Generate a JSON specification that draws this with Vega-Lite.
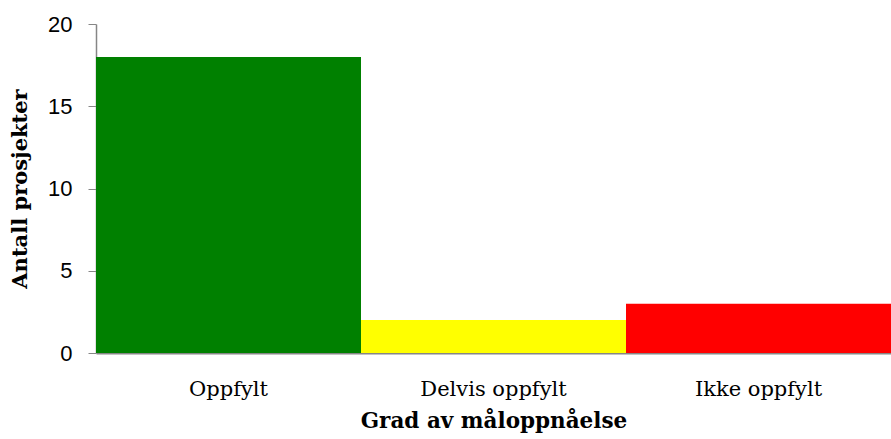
{
  "$schema": "https://vega.github.io/schema/vega-lite/v6.json",
  "width": 795,
  "height": 329,
  "autosize": {"type": "none"},
  "padding": {"left": 96, "top": 24, "right": 0, "bottom": 86},
  "background": "white",
  "config": {"view": {"stroke": null}},
  "data": {
    "values": [
      {"kategori": "Oppfylt", "antall": 18, "farge": "#008000"},
      {"kategori": "Delvis oppfylt", "antall": 2, "farge": "#FFFF00"},
      {"kategori": "Ikke oppfylt", "antall": 3, "farge": "#FF0000"}
    ]
  },
  "mark": {"type": "bar"},
  "encoding": {
    "x": {
      "field": "kategori",
      "type": "nominal",
      "sort": null,
      "scale": {"paddingInner": 0, "paddingOuter": 0},
      "axis": {
        "title": "Grad av måloppnåelse",
        "labelAngle": 0,
        "ticks": false,
        "domainColor": "#868686",
        "domainWidth": 2,
        "labelFont": "DejaVu Serif",
        "labelFontSize": 21,
        "labelColor": "#000000",
        "labelPadding": 25,
        "titleFont": "DejaVu Serif",
        "titleFontSize": 21.5,
        "titleFontWeight": "bold",
        "titleColor": "#000000",
        "titlePadding": 11
      }
    },
    "y": {
      "field": "antall",
      "type": "quantitative",
      "scale": {"domain": [0, 20]},
      "axis": {
        "title": "Antall prosjekter",
        "values": [0, 5, 10, 15, 20],
        "grid": false,
        "domainColor": "#868686",
        "domainWidth": 1.5,
        "tickColor": "#868686",
        "tickSize": 8,
        "labelFont": "Liberation Sans",
        "labelFontSize": 22,
        "labelColor": "#000000",
        "labelPadding": 16,
        "titleFont": "DejaVu Serif",
        "titleFontSize": 21,
        "titleFontWeight": "bold",
        "titleColor": "#000000",
        "titlePadding": 17
      }
    },
    "color": {"field": "farge", "type": "nominal", "scale": null, "legend": null}
  }
}
